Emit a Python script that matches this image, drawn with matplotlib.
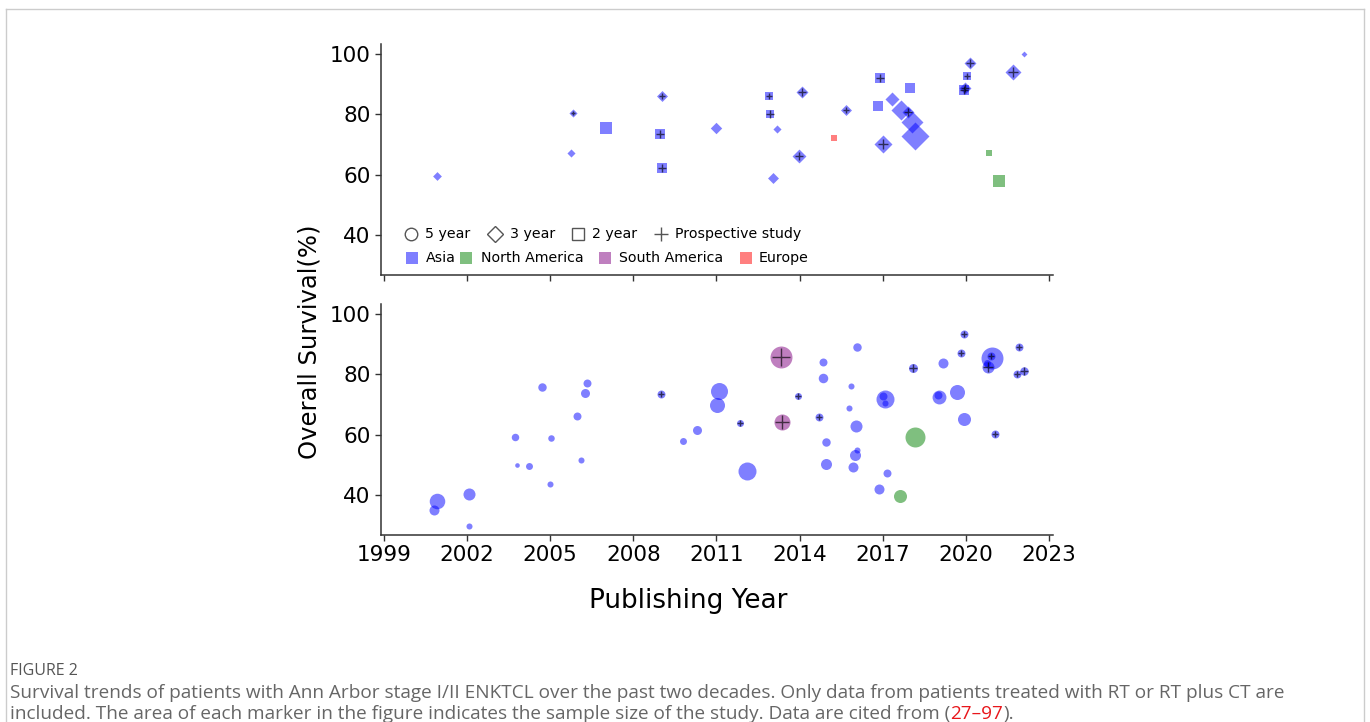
import matplotlib
matplotlib.use("Agg")
import matplotlib.pyplot as plt
from matplotlib.lines import Line2D

# ---- data ----
# upper panel: 3-year (diamond) and 2-year (square) overall survival
up_year = [2000.92, 2005.83, 2005.74, 2007.03, 2009.03, 2008.96, 2009.04, 2011.0,
           2012.9, 2012.93, 2013.2, 2013.03, 2014.09, 2013.99, 2015.26, 2015.68,
           2016.9, 2016.83, 2017.03, 2017.34, 2018.0, 2017.67, 2017.9, 2018.05,
           2018.15, 2020.84, 2021.19, 2020.15, 2020.03, 2019.97, 2019.95, 2021.7,
           2022.09]
up_os = [59.4, 80.4, 67.0, 75.6, 86.2, 73.3, 62.3, 75.4,
         86.0, 80.1, 75.1, 59.0, 87.5, 66.1, 72.0, 81.5,
         92.0, 82.9, 70.1, 85.0, 88.6, 81.5, 80.6, 77.6,
         72.8, 67.0, 58.0, 97.1, 92.7, 88.8, 88.1, 93.9,
         100.0]
up_n = [20, 17, 17, 63, 31, 42, 42, 34,
        33, 40, 17, 31, 37, 50, 19, 31,
        52, 52, 84, 51, 52, 104, 37, 125,
        203, 19, 63, 37, 33, 37, 42, 66,
        9]
up_kind = ["3y", "3y", "3y", "2y", "3y", "2y", "2y", "3y",
           "2y", "2y", "3y", "3y", "3y", "3y", "2y", "3y",
           "2y", "2y", "3y", "3y", "2y", "3y", "3y", "3y",
           "3y", "2y", "2y", "3y", "2y", "3y", "2y", "3y",
           "3y"]
up_region = ["Asia"] * 14 + ["Europe"] + ["Asia"] * 10 + ["North America"] * 2 + ["Asia"] * 6
up_prosp = [0, 1, 0, 0, 1, 1, 1, 0,
            1, 1, 0, 0, 1, 1, 0, 1,
            1, 0, 1, 0, 0, 0, 1, 0,
            0, 0, 0, 1, 1, 1, 1, 1,
            0]

# lower panel: 5-year overall survival (circles)
lo_year = [2000.92, 2000.82, 2002.05, 2002.07, 2003.72, 2003.81, 2004.23, 2004.7,
           2005.02, 2004.99, 2005.95, 2006.12, 2006.31, 2006.25, 2008.99, 2009.79,
           2010.29, 2011.08, 2011.02, 2011.84, 2012.12, 2013.34, 2013.36, 2013.94,
           2014.71, 2014.85, 2014.85, 2014.94, 2014.94, 2016.06, 2015.86, 2015.78,
           2016.03, 2016.0, 2016.08, 2015.92, 2017.1, 2017.0, 2017.07, 2017.14,
           2016.87, 2017.64, 2018.18, 2018.11, 2019.04, 2019.0, 2019.18, 2019.7,
           2019.92, 2019.93, 2019.83, 2020.95, 2020.92, 2020.81, 2020.78, 2021.04,
           2021.94, 2021.85, 2022.1]
lo_os = [38.0, 34.9, 40.2, 29.7, 59.3, 49.9, 49.7, 75.9,
         59.0, 43.7, 66.3, 51.7, 77.0, 73.9, 73.4, 57.9,
         61.5, 74.4, 69.7, 64.0, 47.9, 85.8, 64.3, 72.9,
         65.9, 84.1, 78.8, 57.4, 50.3, 89.1, 76.2, 68.9,
         62.9, 53.2, 54.9, 49.4, 71.8, 72.9, 70.6, 47.1,
         41.9, 39.5, 59.1, 82.0, 72.4, 73.1, 83.8, 74.1,
         65.3, 93.3, 87.0, 85.5, 86.0, 82.5, 83.6, 60.3,
         89.0, 80.0, 81.1]
lo_n = [125, 52, 75, 19, 29, 11, 25, 37,
        22, 19, 33, 19, 33, 42, 33, 25,
        42, 150, 117, 25, 168, 250, 133, 25,
        33, 33, 47, 37, 63, 37, 19, 19,
        75, 63, 19, 52, 168, 33, 19, 33,
        52, 88, 207, 42, 100, 33, 52, 117,
        88, 33, 33, 250, 33, 75, 25, 33,
        33, 33, 37]
lo_region = (["Asia"] * 21 + ["South America"] * 2 + ["Asia"] * 18
             + ["North America"] * 2 + ["Asia"] * 16)
lo_prosp = [0, 0, 0, 0, 0, 0, 0, 0,
            0, 0, 0, 0, 0, 0, 1, 0,
            0, 0, 0, 1, 0, 1, 1, 1,
            1, 0, 0, 0, 0, 0, 0, 0,
            0, 0, 0, 0, 0, 0, 0, 0,
            0, 0, 0, 1, 0, 0, 0, 0,
            0, 1, 1, 0, 1, 1, 0, 1,
            1, 1, 1]

regions = ["Asia", "North America", "South America", "Europe"]
colors = {"Asia": "blue", "North America": "green",
          "South America": "purple", "Europe": "red"}
markers = {"5y": "o", "3y": "D", "2y": "s"}

W, H = 1370, 722
fig = plt.figure(figsize=(W / 100, H / 100), dpi=100)


def fx(px):
    return px / W


def fy(py):
    return 1 - py / H


ax1 = fig.add_axes([fx(381), fy(275), fx(1053) - fx(381), fy(44) - fy(275)])
ax2 = fig.add_axes([fx(381), fy(535), fx(1053) - fx(381), fy(304) - fy(535)])


def draw(ax, year, os_, n, kind, region, prosp):
    for i in range(len(year)):
        ax.scatter(year[i], os_[i], s=n[i], marker=markers[kind[i]],
                   color=colors[region[i]], alpha=0.5, linewidths=0, zorder=2)
    for i in range(len(year)):
        if prosp[i]:
            ax.scatter(year[i], os_[i], s=n[i] * 0.7, marker="+", color="black",
                       alpha=0.65, linewidths=1.0, zorder=3)


draw(ax1, up_year, up_os, up_n, up_kind, up_region, up_prosp)
draw(ax2, lo_year, lo_os, lo_n, ["5y"] * len(lo_year), lo_region, lo_prosp)

for ax in (ax1, ax2):
    ax.set_xlim(1998.89, 2023.15)
    ax.set_ylim(26.7, 103.3)
    ax.set_yticks([40, 60, 80, 100])
    ax.set_xticks(range(1999, 2024, 3))
    for side in ("top", "right"):
        ax.spines[side].set_visible(False)
    for side in ("left", "bottom"):
        ax.spines[side].set_color("#333333")
        ax.spines[side].set_linewidth(1.1)
    ax.tick_params(labelsize=15.5, length=4, width=1, color="#333333")
ax1.tick_params(labelbottom=False)

# legend, laid out by hand in figure pixels (two rows)
row1 = [("o", "5 year", 411, 425, 9), ("D", "3 year", 495, 510, 8),
        ("s", "2 year", 578, 592, 9), ("+", "Prospective study", 661, 675, 10)]
for mk, lab, mx, tx, ms in row1:
    if mk == "+":
        fig.add_artist(Line2D([fx(mx)], [fy(234)], ls="", marker=mk, color="#555555",
                              ms=ms, mew=1))
    else:
        fig.add_artist(Line2D([fx(mx)], [fy(234)], ls="", marker=mk, mfc="none",
                              mec="#555555", ms=ms, mew=1))
    fig.text(fx(tx), fy(234), lab, fontsize=10.2, va="center")
row2_x = [(412, 426), (466, 481), (605, 619), (746, 759)]
for reg, (mx, tx) in zip(regions, row2_x):
    fig.add_artist(Line2D([fx(mx)], [fy(258)], ls="", marker="s", color=colors[reg],
                          alpha=0.5, ms=8, mew=0))
    fig.text(fx(tx), fy(258), reg, fontsize=10.2, va="center")

fig.text(fx(310), fy(342), "Overall Survival(%)", rotation=90, fontsize=17.5,
         ha="center", va="center")
fig.text(fx(688), fy(601), "Publishing Year", fontsize=18.9, ha="center", va="center")

# caption
cap_font = "Open Sans"
fig.text(fx(10), fy(671), "FIGURE 2", fontsize=11.5, color="#555555",
         family=cap_font, va="center")
fig.text(fx(10), fy(693),
         "Survival trends of patients with Ann Arbor stage I/II ENKTCL over the past two "
         "decades. Only data from patients treated with RT or RT plus CT are",
         fontsize=13.7, color="#666666", family=cap_font, va="center")
t1 = fig.text(fx(10), fy(714),
              "included. The area of each marker in the figure indicates the sample size "
              "of the study. Data are cited from (",
              fontsize=13.7, color="#666666", family=cap_font, va="center")
r = fig.canvas.get_renderer()
x1 = t1.get_window_extent(r).x1
t2 = fig.text(x1 / W, fy(714), "27\u201397", fontsize=13.7, color="#e8161b",
              family=cap_font, va="center")
x2 = t2.get_window_extent(r).x1
fig.text(x2 / W, fy(714), ").", fontsize=13.7, color="#666666",
         family=cap_font, va="center")

# thin frame round the figure panel
for xs, ys in (([6, 6], [9, H]), ([6, 1364], [9, 9]), ([1364, 1364], [9, H])):
    fig.add_artist(Line2D([fx(v) for v in xs], [fy(v) for v in ys],
                          color="#cccccc", lw=1))

fig.savefig("out.png", dpi=100)
